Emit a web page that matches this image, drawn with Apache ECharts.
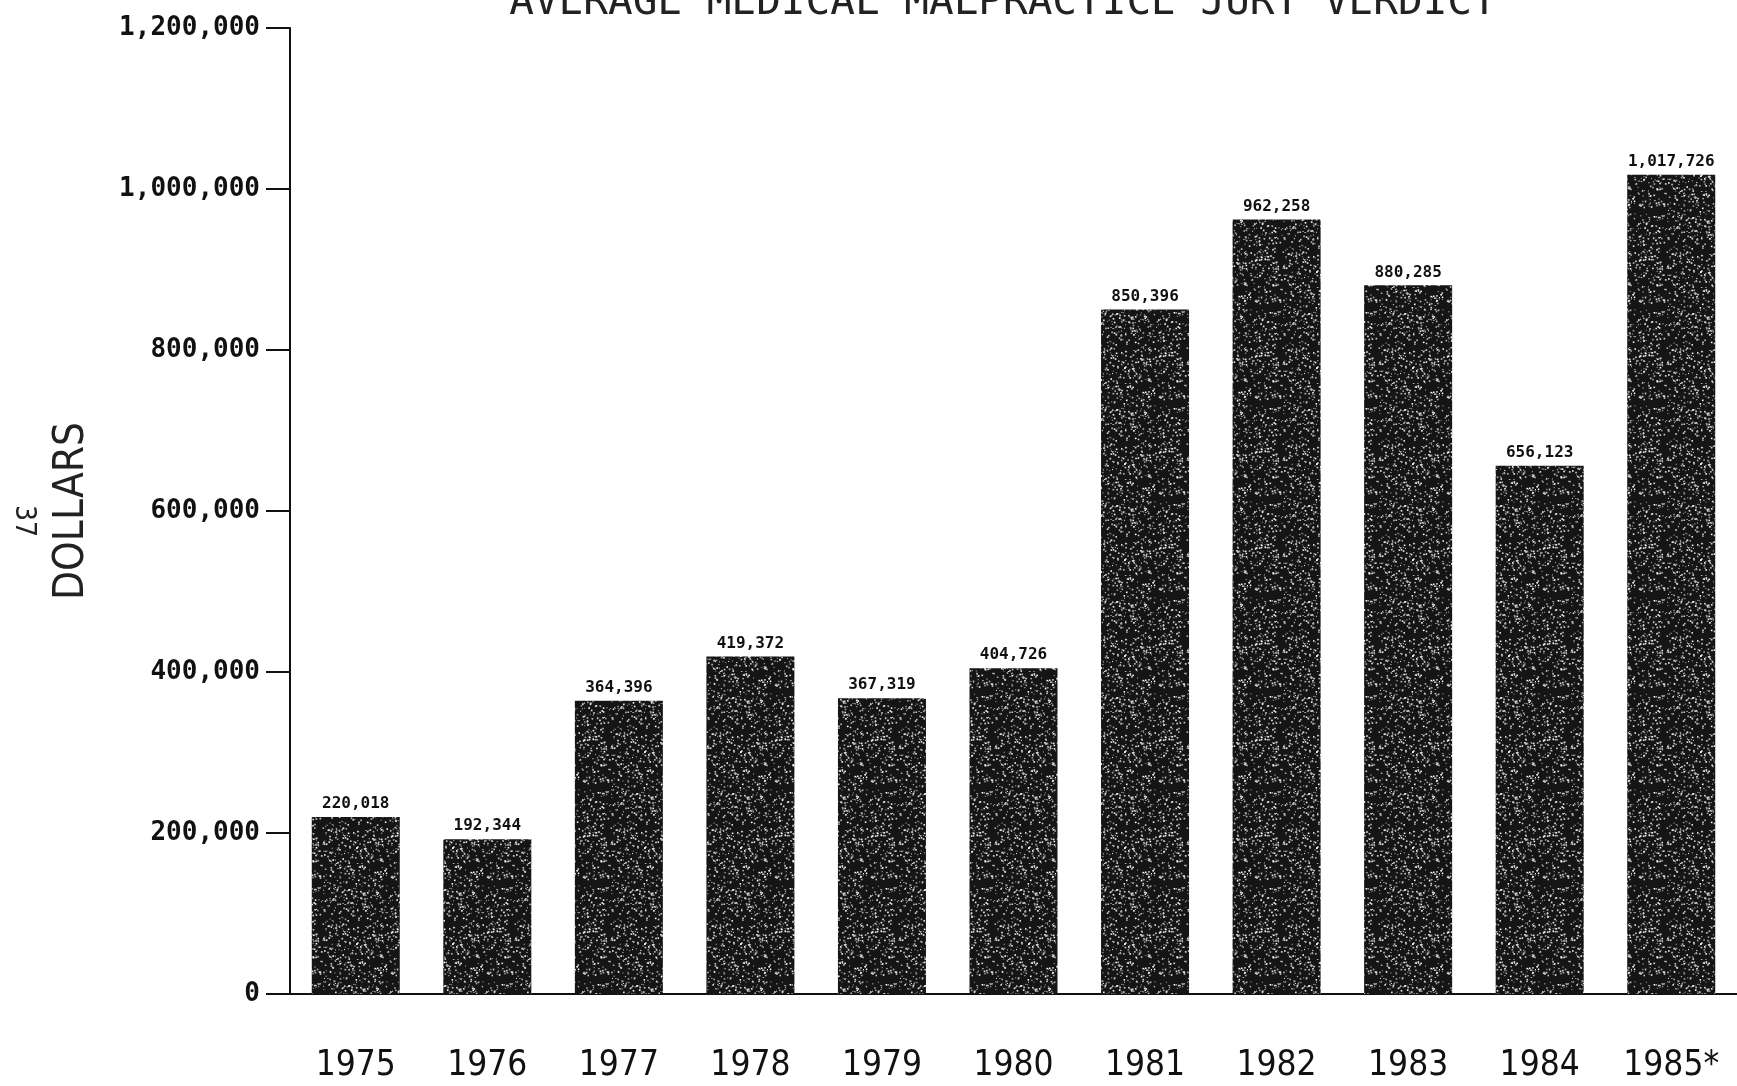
<!DOCTYPE html>
<html>
<head>
<meta charset="utf-8">
<script src="https://cdn.jsdelivr.net/npm/echarts@6/dist/echarts.min.js"></script>
<style>
html,body{margin:0;padding:0;background:#fff;}
#c{width:1737px;height:1086px;}
</style>
</head>
<body>
<div id="c"></div>
<script>
const years = ['1975','1976','1977','1978','1979','1980','1981','1982','1983','1984','1985*'];
const verdicts = [220018,192344,364396,419372,367319,404726,850396,962258,880285,656123,1017726];
const yMin = 0, yMax = 1200000, yStep = 200000;
const titleText = 'AVERAGE MEDICAL MALPRACTICE JURY VERDICT';
const yName = 'DOLLARS';
const pageNo = '37';

// stippled texture for bars (styling only)
function makePattern(){
  const cv = document.createElement('canvas');
  cv.width = 96; cv.height = 96;
  const ctx = cv.getContext('2d');
  ctx.fillStyle = '#151515';
  ctx.fillRect(0,0,96,96);
  let s = 12345;
  function r(){ s = (s*1103515245 + 12345) & 0x7fffffff; return s/0x7fffffff; }
  for(let i=0;i<700;i++){
    const x = r()*96, y = r()*96, sz = r()<0.5?1:1.6;
    const g = 150 + Math.floor(r()*105);
    ctx.fillStyle = 'rgb('+g+','+g+','+g+')';
    ctx.fillRect(x,y,sz,sz);
  }
  return cv;
}

const narrow = '"Liberation Sans Narrow","DejaVu Sans Condensed","DejaVu Sans",sans-serif';
const fmt = v => Number(v).toLocaleString('en-US');
const chart = echarts.init(document.getElementById('c'));
chart.setOption({
  backgroundColor:'#ffffff',
  animation:false,
  grid:{left:290,right:-13,top:28,bottom:92,containLabel:false},
  xAxis:{
    type:'category',
    data:years,
    axisLine:{lineStyle:{color:'#111',width:2}},
    axisTick:{alignWithLabel:true,length:28,lineStyle:{color:'#111',width:2}},
    axisLabel:{interval:0,margin:54,color:'#111',fontSize:35,fontFamily:narrow}
  },
  yAxis:{
    type:'value',min:yMin,max:yMax,interval:yStep,
    splitLine:{show:false},
    axisLine:{show:true,lineStyle:{color:'#111',width:2}},
    axisTick:{show:true,length:24,lineStyle:{color:'#111',width:2}},
    axisLabel:{margin:30,color:'#111',fontSize:26,fontWeight:'bold',fontFamily:'"DejaVu Sans Mono",monospace',formatter:fmt}
  },
  series:[{
    type:'bar',
    data:verdicts,
    barWidth:88,
    itemStyle:{color:{image:makePattern(),repeat:'repeat'}},
    label:{show:true,position:'top',distance:5,color:'#111',fontSize:16,fontWeight:'bold',fontFamily:'"DejaVu Sans Mono",monospace',formatter:p=>fmt(p.value)}
  }],
  graphic:[
    {type:'text',x:1003,y:3,style:{text:titleText,fill:'#222',fontSize:41,fontFamily:'"DejaVu Sans Mono",monospace',align:'center',verticalAlign:'middle'},silent:true},
    {type:'text',x:72,y:511,rotation:Math.PI/2,style:{text:yName,fill:'#222',fontSize:42,fontFamily:narrow,align:'center',verticalAlign:'middle'},silent:true},
    {type:'text',x:23,y:521,rotation:-Math.PI/2,style:{text:pageNo,fill:'#222',fontSize:28,fontFamily:narrow,align:'center',verticalAlign:'middle'},silent:true}
  ]
});
</script>
</body>
</html>
